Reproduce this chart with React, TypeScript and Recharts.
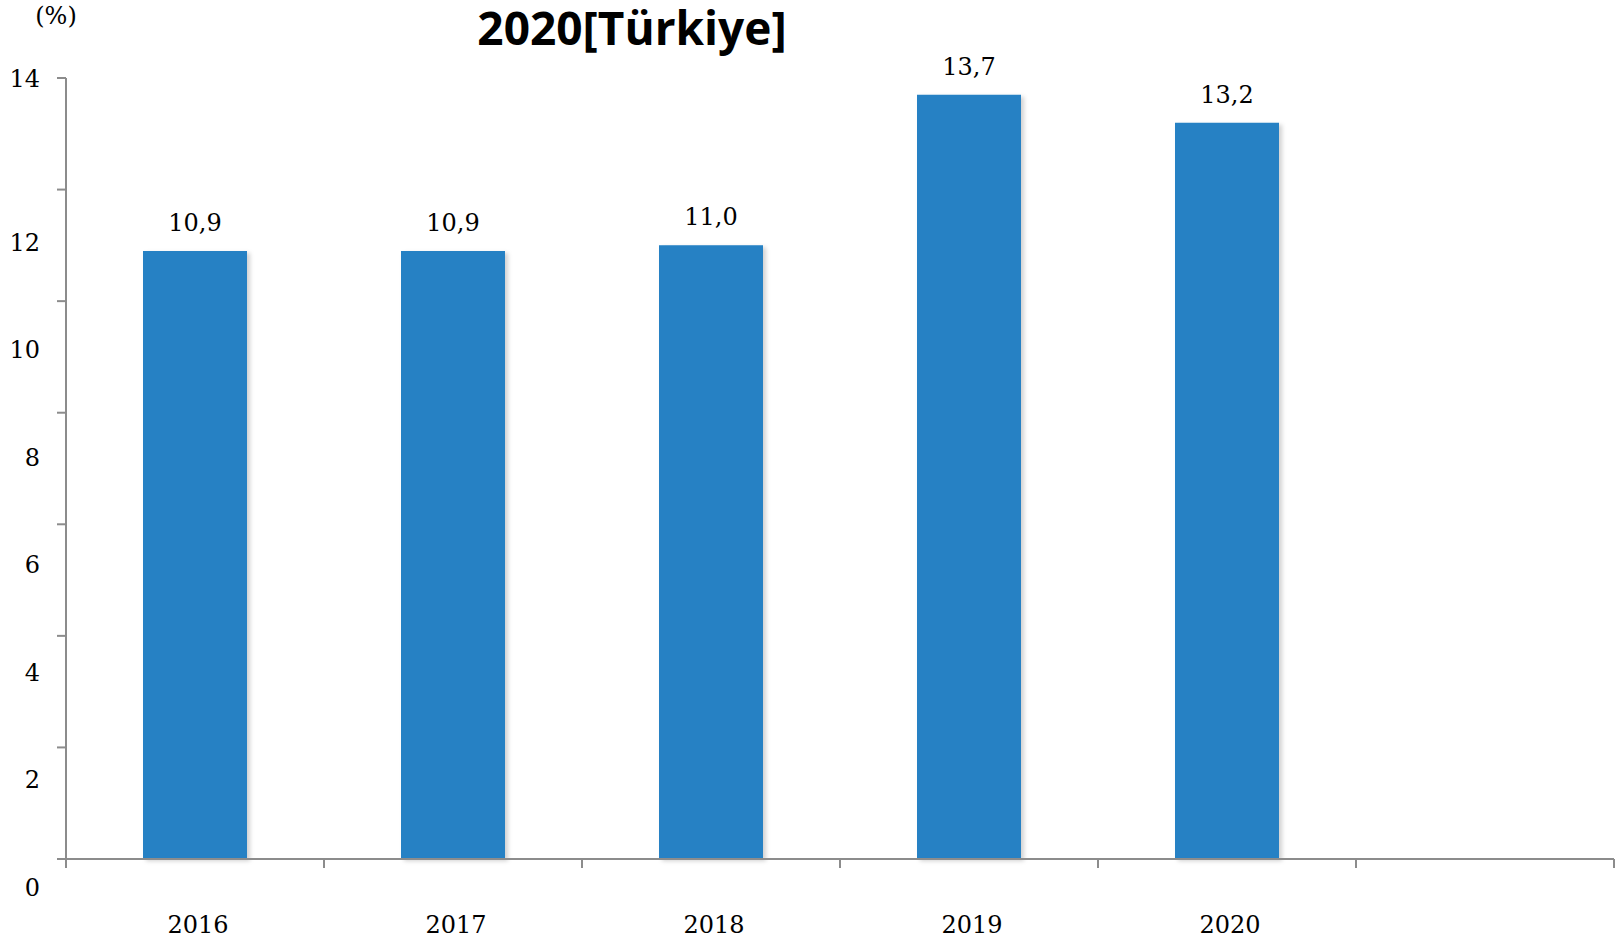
import { BarChart, Bar, XAxis, YAxis, LabelList } from "recharts";

const years = ["2016", "2017", "2018", "2019", "2020", ""];
const rates: (number | null)[] = [10.9, 10.9, 11.0, 13.7, 13.2, null];
const yTicks = [0, 2, 4, 6, 8, 10, 12, 14];

const data = years.map((year, i) => ({ year, value: rates[i] }));

const W = 1623;
const H = 943;
const M = { top: 78, right: 9, bottom: 0, left: 0 };
const Y_AXIS_W = 66;
const X_AXIS_H = 84;
const HALF_BAND = (W - Y_AXIS_W - M.right) / years.length / 2;

const AXIS = "#8c8c8c";
const BLUE = "#2581c4";
const SERIF = "'DejaVu Serif', serif";

const fmt = (v: unknown) =>
  typeof v === "number" ? v.toFixed(1).replace(".", ",") : "";

function YTick(props: any) {
  const { y, payload } = props;
  const v = payload.value as number;
  // labels drift below their tick marks except the top one, as in the source
  const dy = v === 14 ? 9 : 37 + 2 * v;
  return (
    <text x={40} y={y + dy} textAnchor="end" fontSize={24} fill="#000" fontFamily={SERIF}>
      {v}
    </text>
  );
}

function XTick(props: any) {
  const { x, y, payload, index } = props;
  const last = index === years.length - 1;
  return (
    <g>
      <line x1={x - HALF_BAND} x2={x - HALF_BAND} y1={y} y2={y + 9} stroke={AXIS} strokeWidth={2} />
      {last && (
        <line x1={x + HALF_BAND} x2={x + HALF_BAND} y1={y} y2={y + 9} stroke={AXIS} strokeWidth={2} />
      )}
      <text x={x + 3} y={y + 74} textAnchor="middle" fontSize={24} fill="#000" fontFamily={SERIF}>
        {payload.value}
      </text>
    </g>
  );
}

export default function App() {
  return (
    <div style={{ position: "absolute", left: 0, top: 0, width: W, height: H, background: "#fff" }}>
      <div
        style={{
          position: "absolute",
          left: 56,
          top: 2,
          transform: "translateX(-50%)",
          fontFamily: SERIF,
          fontSize: 24,
        }}
      >
        (%)
      </div>
      <div
        style={{
          position: "absolute",
          left: 632,
          top: 4,
          transform: "translateX(-50%)",
          fontFamily: "'Open Sans', sans-serif",
          fontWeight: 700,
          fontSize: 46,
          lineHeight: "46px",
          whiteSpace: "nowrap",
        }}
      >
        2020[Türkiye]
      </div>
      <BarChart width={W} height={H} data={data} margin={M}>
        <defs>
          <filter id="barShadow" x="-10%" y="-10%" width="130%" height="130%">
            <feDropShadow dx="3" dy="2" stdDeviation="2" floodColor="#000" floodOpacity="0.18" />
          </filter>
        </defs>
        <XAxis
          dataKey="year"
          height={X_AXIS_H}
          tickSize={0}
          tickMargin={0}
          tickLine={false}
          axisLine={{ stroke: AXIS, strokeWidth: 2 }}
          tick={<XTick />}
          interval={0}
        />
        <YAxis
          width={Y_AXIS_W}
          domain={[0, 14]}
          ticks={yTicks}
          interval={0}
          tickSize={9}
          axisLine={{ stroke: AXIS, strokeWidth: 2 }}
          tickLine={{ stroke: AXIS, strokeWidth: 2 }}
          tick={<YTick />}
        />
        <Bar dataKey="value" fill={BLUE} barSize={104} isAnimationActive={false} filter="url(#barShadow)">
          <LabelList
            dataKey="value"
            position="top"
            offset={20}
            formatter={fmt}
            style={{ fontFamily: SERIF, fontSize: 24, fill: "#000" }}
          />
        </Bar>
      </BarChart>
    </div>
  );
}
